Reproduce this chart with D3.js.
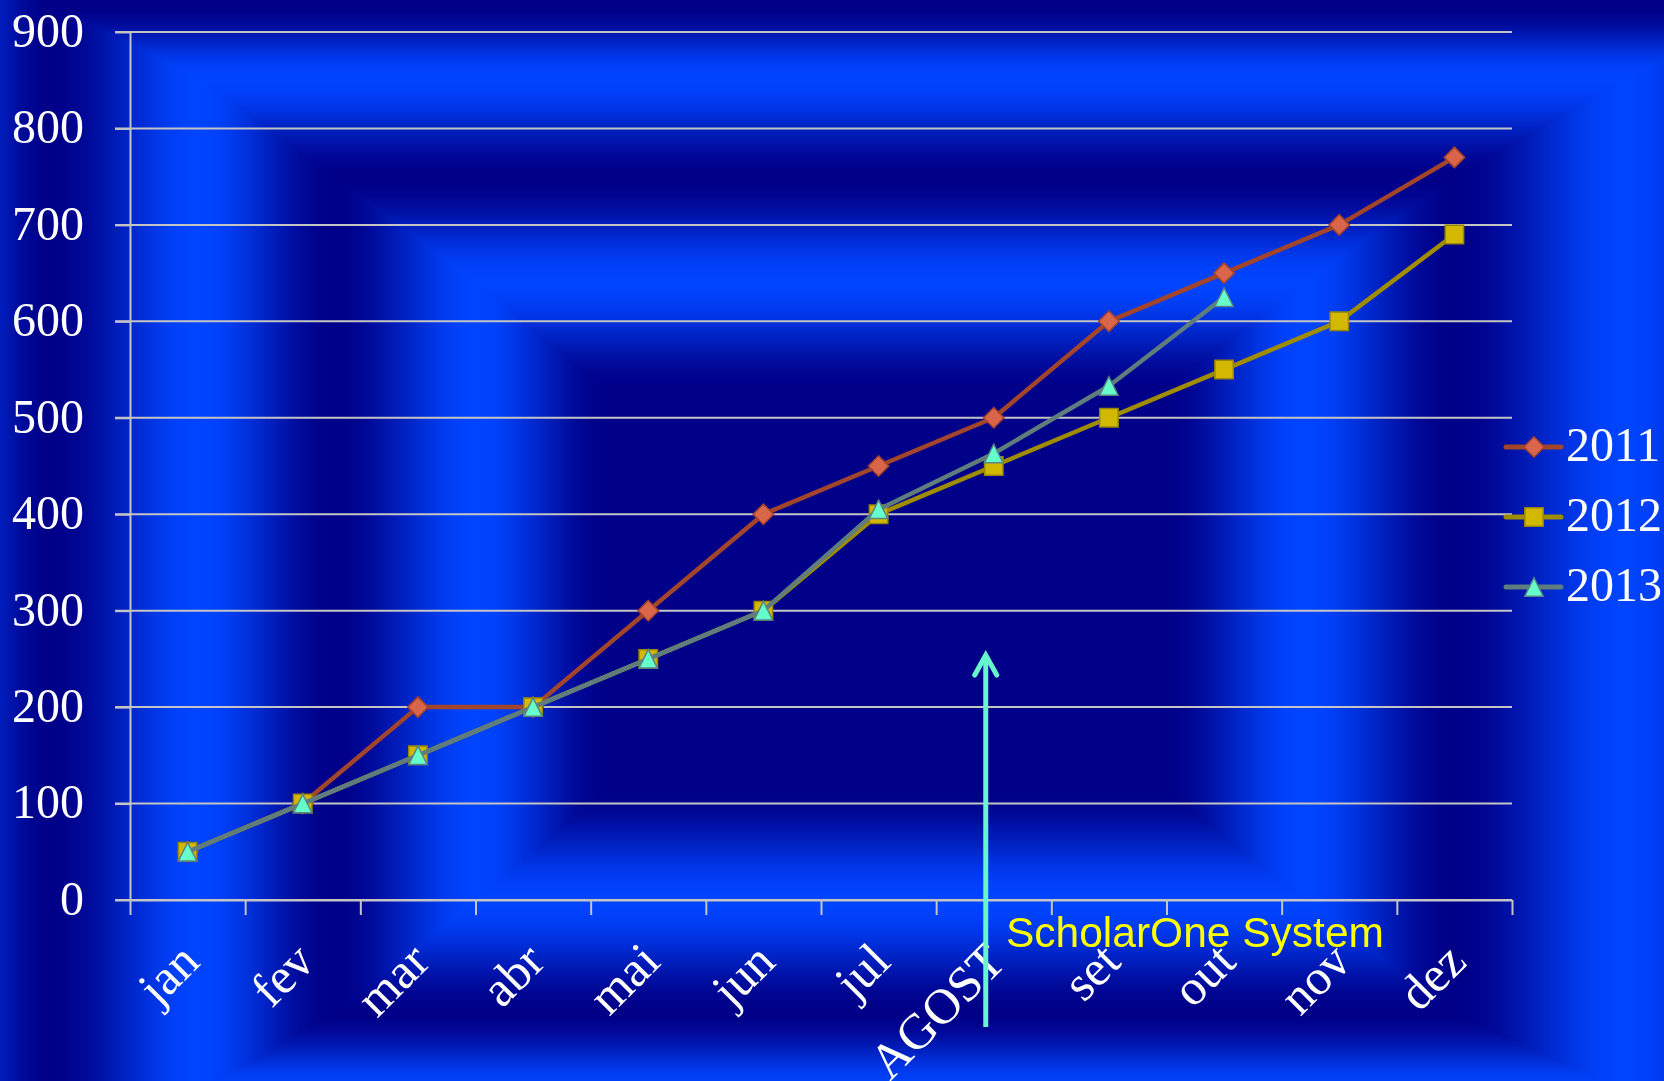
<!DOCTYPE html>
<html>
<head>
<meta charset="utf-8">
<script src="https://cdn.jsdelivr.net/npm/d3@7"></script>
<style>
  html, body { margin: 0; padding: 0; background: #000088; overflow: hidden; }
  #wrap { position: relative; width: 1664px; height: 1081px; }
  #bg, #chart { position: absolute; left: 0; top: 0; }
</style>
</head>
<body>
<div id="wrap">
  <canvas id="bg" width="1664" height="1081"></canvas>
  <svg id="chart" width="1664" height="1081"></svg>
</div>
<script>
'use strict'

// ---- data ----
const months = ['jan', 'fev', 'mar', 'abr', 'mai', 'jun', 'jul', 'AGOST', 'set', 'out', 'nov', 'dez'];
const values2011 = [50, 100, 200, 200, 300, 400, 450, 500, 600, 650, 700, 770];
const values2012 = [50, 100, 150, 200, 250, 300, 400, 450, 500, 550, 600, 690];
const values2013 = [50, 100, 150, 200, 250, 300, 405, 463, 533, 625];
const seriesNames = ['2011', '2012', '2013'];
const yTicks = [0, 100, 200, 300, 400, 500, 600, 700, 800, 900];
const noteText = 'ScholarOne System';
const noteMonth = 'AGOST';
const noteArrowTop = 255;

const W = 1664, H = 1081;
const plotLeft = 130, plotRight = 1512, plotTop = 32, plotBottom = 900;

// ---- background: nested rectangular bands ----
const drawBackground = function() {
    const ctx = document.getElementById('bg').getContext('2d');
    const img = ctx.createImageData(W, H);
    const dark = [0, 0, 136], bright = [0, 68, 255];
    const bandColors = [dark, dark, bright, dark, bright, dark, bright];
    // positions of band stops 1..6, going outwards from the centre
    const stopsL = [607, 477, 333, 199, 50, -60];
    const stopsR = [1163, 1303, 1454, 1625, 1780, 1900];
    const stopsT = [391, 282, 177, 77, 5, -70];
    const stopsB = [789, 900, 1013, 1090, 1170, 1250];
    const midX = 885, midY = 590;

    const bandIndex = (p, mid, stops) => {
        const d = Math.abs(p - mid);
        const s = stops.map(v => Math.abs(v - mid));
        if (d <= s[0]) return d / s[0];
        for (let i = 1; i < s.length; i++) {
            if (d <= s[i]) return i + (d - s[i - 1]) / (s[i] - s[i - 1]);
        }
        return s.length;
    };

    const tx = new Float32Array(W), ty = new Float32Array(H);
    for (let x = 0; x < W; x++) tx[x] = bandIndex(x, midX, x < midX ? stopsL : stopsR);
    for (let y = 0; y < H; y++) ty[y] = bandIndex(y, midY, y < midY ? stopsT : stopsB);

    let k = 0;
    for (let y = 0; y < H; y++) {
        for (let x = 0; x < W; x++) {
            const t = Math.min(Math.max(tx[x], ty[y]), 6);
            const i = Math.min(Math.floor(t), 5);
            let f = t - i;
            f = f * f * (3 - 2 * f);
            const a = bandColors[i], b = bandColors[i + 1];
            img.data[k++] = a[0] + (b[0] - a[0]) * f;
            img.data[k++] = a[1] + (b[1] - a[1]) * f;
            img.data[k++] = a[2] + (b[2] - a[2]) * f;
            img.data[k++] = 255;
        }
    }
    ctx.putImageData(img, 0, 0);
};
drawBackground();

// ---- chart ----
const svg = d3.select('#chart');

const x = d3.scaleBand().domain(months).range([plotLeft, plotRight]);
const xEdge = d3.scaleLinear().domain([0, months.length]).range([plotLeft, plotRight]);
const y = d3.scaleLinear().domain([0, 900]).range([plotBottom, plotTop]);
const cx = m => x(m) + x.bandwidth() / 2;

const gridColor = '#c4c4c4';
const serif = '"Palatino Linotype", "Book Antiqua", "Liberation Serif", "Times New Roman", serif';

// horizontal gridlines (with outside tick)
svg.append('g')
    .selectAll('line')
    .data(yTicks)
    .enter().append('line')
    .attr('x1', plotLeft - 15)
    .attr('x2', plotRight)
    .attr('y1', d => y(d))
    .attr('y2', d => y(d))
    .style('stroke', gridColor)
    .style('stroke-width', 2);

// y axis
const yAxis = svg.append('g')
    .attr('transform', `translate(${plotLeft},0)`)
    .call(d3.axisLeft(y).tickValues(yTicks).tickSize(15).tickSizeOuter(0).tickPadding(31));
yAxis.select('.domain').style('stroke', gridColor).style('stroke-width', 2);
yAxis.selectAll('.tick line').style('stroke', gridColor).style('stroke-width', 2);
yAxis.selectAll('.tick text')
    .style('font-family', serif)
    .style('font-size', '48px')
    .style('fill', '#ffffff')
    .attr('dy', '0.30em');

// x axis (ticks between categories)
const xAxis = svg.append('g')
    .attr('transform', `translate(0,${plotBottom})`)
    .call(d3.axisBottom(xEdge).tickValues(d3.range(months.length + 1)).tickFormat('').tickSize(15).tickSizeOuter(0));
xAxis.select('.domain').style('stroke', gridColor).style('stroke-width', 2);
xAxis.selectAll('.tick line').style('stroke', gridColor).style('stroke-width', 2);

svg.append('g')
    .selectAll('text')
    .data(months)
    .enter().append('text')
    .attr('transform', d => `translate(${cx(d) + 14},${plotBottom + 64}) rotate(-45)`)
    .attr('text-anchor', 'end')
    .style('font-family', serif)
    .style('font-size', '50px')
    .style('fill', '#ffffff')
    .text(d => d);

// series
const triangleSym = {
    draw(context, size) {
        const r = Math.sqrt(size) / 2;
        context.moveTo(0, -r);
        context.lineTo(r, r);
        context.lineTo(-r, r);
        context.closePath();
    }
};
const diamondSym = {
    draw(context, size) {
        const r = Math.sqrt(size) / 2;
        context.moveTo(0, -r);
        context.lineTo(r, 0);
        context.lineTo(0, r);
        context.lineTo(-r, 0);
        context.closePath();
    }
};

const series = [
    { name: seriesNames[0], values: values2011, line: '#a2452b', fill: '#d9654a', stroke: '#a3432a', sym: diamondSym, size: 420 },
    { name: seriesNames[1], values: values2012, line: '#a08c00', fill: '#d2b800', stroke: '#9a8600', sym: d3.symbolSquare, size: 340 },
    { name: seriesNames[2], values: values2013, line: '#5f7d7d', fill: '#66ffcc', stroke: '#5a8585', sym: triangleSym, size: 340 }
];

const line = d3.line()
    .x(d => cx(d.m))
    .y(d => y(d.v));

series.forEach(s => {
    const pts = s.values.map((v, i) => ({ m: months[i], v: v }));
    const g = svg.append('g').attr('class', 'series');
    g.append('path')
        .datum(pts)
        .attr('d', line)
        .style('fill', 'none')
        .style('stroke', s.line)
        .style('stroke-width', 4.5)
        .style('stroke-linejoin', 'round');
    g.selectAll('.mark')
        .data(pts)
        .enter().append('path')
        .attr('class', 'mark')
        .attr('transform', d => `translate(${cx(d.m)},${y(d.v)})`)
        .attr('d', d3.symbol().type(s.sym).size(s.size))
        .style('fill', s.fill)
        .style('stroke', s.stroke)
        .style('stroke-width', 1.5);
});

// legend
const legend = svg.append('g')
    .selectAll('g')
    .data(series)
    .enter().append('g')
    .attr('transform', (d, i) => `translate(1506,${447 + i * 70})`);
legend.append('line')
    .attr('x1', 0).attr('x2', 55)
    .style('stroke', d => d.line)
    .style('stroke-width', 5)
    .style('stroke-linecap', 'round');
legend.append('path')
    .attr('transform', 'translate(28,0)')
    .attr('d', d => d3.symbol().type(d.sym).size(d.size)())
    .style('fill', d => d.fill)
    .style('stroke', d => d.stroke)
    .style('stroke-width', 1.5);
legend.append('text')
    .attr('x', 60)
    .attr('dy', '0.3em')
    .style('font-family', serif)
    .style('font-size', '48px')
    .style('fill', '#ffffff')
    .text(d => d.name);

// annotation arrow + note
const ax = cx(noteMonth) - 8;
const arrow = svg.append('g')
    .style('stroke', '#66f5cc')
    .style('fill', 'none')
    .style('stroke-width', 5)
    .style('stroke-linecap', 'round')
    .style('stroke-linejoin', 'miter');
arrow.append('line')
    .attr('x1', ax).attr('x2', ax)
    .attr('y1', 1027).attr('y2', y(noteArrowTop) + 3)
    .style('stroke-linecap', 'butt');
arrow.append('path')
    .attr('d', `M${ax - 11},${y(noteArrowTop) + 21} L${ax},${y(noteArrowTop) + 1} L${ax + 11},${y(noteArrowTop) + 21}`);

svg.append('text')
    .attr('x', 1006)
    .attr('y', 947)
    .style('font-family', '"Liberation Sans", Arial, sans-serif')
    .style('font-size', '42.5px')
    .style('fill', '#ffff00')
    .text(noteText);
</script>
</body>
</html>
